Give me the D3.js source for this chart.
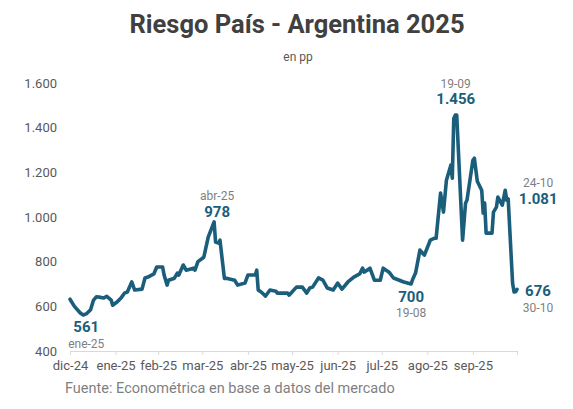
<!DOCTYPE html>
<html>
<head>
<meta charset="utf-8">
<script src="https://cdn.jsdelivr.net/npm/d3@7"></script>
<style>
  body { margin: 0; background: #fff; }
  svg { font-family: Roboto, "Open Sans", sans-serif; }
</style>
</head>
<body>
<div id="chart"></div>
<script>
// daily series
var dates = [
  "2024-12-30","2025-01-02","2025-01-06","2025-01-08","2025-01-10","2025-01-13","2025-01-15","2025-01-17",
  "2025-01-20","2025-01-22","2025-01-24","2025-01-27","2025-01-28","2025-01-31","2025-02-03","2025-02-05",
  "2025-02-07","2025-02-10","2025-02-12","2025-02-17","2025-02-19","2025-02-21","2025-02-25","2025-02-27",
  "2025-03-03","2025-03-04","2025-03-06","2025-03-07","2025-03-11","2025-03-13","2025-03-14","2025-03-17",
  "2025-03-19","2025-03-24","2025-03-25","2025-03-27","2025-03-31","2025-04-03","2025-04-07","2025-04-08",
  "2025-04-10","2025-04-11","2025-04-14","2025-04-16","2025-04-21","2025-04-23","2025-04-28","2025-04-30",
  "2025-05-05","2025-05-06","2025-05-07","2025-05-09","2025-05-12","2025-05-15","2025-05-19","2025-05-20",
  "2025-05-27","2025-05-28","2025-06-02","2025-06-06","2025-06-09","2025-06-11","2025-06-13","2025-06-17",
  "2025-06-20","2025-06-23","2025-06-27","2025-06-30","2025-07-03","2025-07-07","2025-07-11","2025-07-15",
  "2025-07-17","2025-07-18","2025-07-22","2025-07-25","2025-07-29","2025-07-31","2025-08-04","2025-08-07",
  "2025-08-11","2025-08-14","2025-08-19","2025-08-20","2025-08-22","2025-08-25","2025-08-28","2025-09-01",
  "2025-09-04","2025-09-05","2025-09-08","2025-09-10","2025-09-12","2025-09-15","2025-09-16","2025-09-17",
  "2025-09-18","2025-09-19","2025-09-23","2025-09-25","2025-09-26","2025-09-30","2025-10-01","2025-10-03",
  "2025-10-06","2025-10-07","2025-10-08","2025-10-09","2025-10-13","2025-10-14","2025-10-16","2025-10-17",
  "2025-10-20","2025-10-22","2025-10-23","2025-10-24","2025-10-27","2025-10-28","2025-10-29","2025-10-30"
];
var values = [
  632, 600, 570, 561, 566, 585, 628, 643,
  640, 637, 645, 628, 605, 619, 640, 659,
  664, 709, 673, 677, 727, 731, 745, 776,
  776, 740, 695, 717, 726, 749, 740, 785,
  762, 771, 762, 800, 820, 910, 978, 888,
  883, 896, 725, 725, 717, 695, 704, 740,
  740, 762, 673, 664, 646, 673, 668, 659,
  659, 650, 686, 686, 659, 682, 686, 727,
  717, 682, 673, 704, 677, 709, 731, 745,
  771, 753, 771, 717, 717, 771, 753, 727,
  717, 709, 700, 720, 749, 852, 829, 896,
  905, 905, 1107, 1022, 1165, 1232, 1174, 1440,
  1456, 1456, 896, 1062, 1076, 1254, 1263, 1160,
  1120, 1017, 1062, 928, 928, 1022, 1044, 1089,
  1053, 1120, 1075, 1081, 704, 664, 665, 676
];

// axis ticks (Excel-style monthly steps from the first date)
var tickDates = ["2024-12-30","2025-01-30","2025-02-28","2025-03-30","2025-04-30","2025-05-30",
                 "2025-06-30","2025-07-30","2025-08-30","2025-09-30","2025-10-30"];
var tickLabels = ["dic-24","ene-25","feb-25","mar-25","abr-25","may-25","jun-25","jul-25","ago-25","sep-25",""];
var yTicks = [400, 600, 800, 1000, 1200, 1400, 1600];

// highlighted points
var noteDates = ["2025-01-08","2025-04-07","2025-08-19","2025-09-19","2025-10-24","2025-10-30"];
var noteValues = ["561","978","700","1.456","1.081","676"];
var noteLabels = ["ene-25","abr-25","19-08","19-09","24-10","30-10"];

var svgWidth = 573;
var svgHeight = 409;
var margin = { top: 83, right: 56, bottom: 58, left: 70 };
var width = svgWidth - margin.left - margin.right;
var height = svgHeight - margin.top - margin.bottom;

var blue = "#1b5e7c";
var gray = "#595959";

var parse = d3.timeParse("%Y-%m-%d");
var data = dates.map((d, i) => ({ date: parse(d), value: values[i] }));

var svg = d3.select("#chart").append("svg")
    .attr("width", svgWidth)
    .attr("height", svgHeight);

// title
svg.append("text")
    .attr("x", 297).attr("y", 33)
    .attr("text-anchor", "middle")
    .attr("font-size", 25.5).attr("font-weight", 700)
    .attr("fill", "#404040")
    .text("Riesgo País - Argentina 2025");

svg.append("text")
    .attr("x", 298).attr("y", 61)
    .attr("text-anchor", "middle")
    .attr("font-size", 12)
    .attr("fill", gray)
    .text("en pp");

var chartGroup = svg.append("g")
    .attr("transform", `translate(${margin.left}, ${margin.top})`);

var xScale = d3.scaleTime()
    .domain([parse(tickDates[0]), parse(tickDates[tickDates.length - 1])])
    .range([0, width]);

var yScale = d3.scaleLinear()
    .domain([400, 1600])
    .range([height, 0]);

var es = d3.formatLocale({ decimal: ",", thousands: ".", grouping: [3], currency: ["$", ""] });
var fmt = es.format(",");

// y axis, labels only
var yAxis = chartGroup.append("g")
    .call(d3.axisLeft(yScale).tickValues(yTicks).tickFormat(fmt).tickSize(0).tickPadding(13));
yAxis.select(".domain").remove();
yAxis.selectAll("text")
    .attr("font-size", 13)
    .attr("font-family", "Roboto, sans-serif")
    .attr("fill", gray);

// x axis
var xAxis = chartGroup.append("g")
    .attr("transform", `translate(0, ${height})`)
    .call(d3.axisBottom(xScale)
        .tickValues(tickDates.map(parse))
        .tickFormat((d, i) => tickLabels[i])
        .tickSizeInner(4).tickSizeOuter(0).tickPadding(6));
xAxis.select(".domain").attr("stroke", "#d9d9d9");
xAxis.selectAll(".tick line").attr("stroke", "#d9d9d9");
xAxis.selectAll("text")
    .attr("font-size", 13)
    .attr("font-family", "Roboto, sans-serif")
    .attr("fill", gray);

// line
var line = d3.line()
    .x(d => xScale(d.date))
    .y(d => yScale(d.value));

chartGroup.append("path")
    .datum(data)
    .attr("fill", "none")
    .attr("stroke", blue)
    .attr("stroke-width", 3.6)
    .attr("stroke-linejoin", "round")
    .attr("stroke-linecap", "round")
    .attr("d", line);

// annotations: offsets of value / date label relative to the point
var noteOffsets = [
    { dx: 3, vy: 17, ly: 33 },
    { dx: 3, vy: -5, ly: -22 },
    { dx: 0, vy: 18, ly: 33 },
    { dx: -1, vy: -11, ly: -27 },
    { dx: 30, vy: 5, ly: -12 },
    { dx: 21, vy: 7, ly: 23 }
];

noteDates.forEach(function(d, i) {
    var px = xScale(parse(d));
    var py = yScale(data.find(p => +p.date === +parse(d)).value);
    var o = noteOffsets[i];
    chartGroup.append("text")
        .attr("x", px + o.dx).attr("y", py + o.vy)
        .attr("text-anchor", "middle")
        .attr("font-size", 15).attr("font-weight", 700)
        .attr("fill", blue)
        .text(noteValues[i]);
    chartGroup.append("text")
        .attr("x", px + o.dx).attr("y", py + o.ly)
        .attr("text-anchor", "middle")
        .attr("font-size", 12)
        .attr("fill", "#808080")
        .text(noteLabels[i]);
});

// source
svg.append("text")
    .attr("x", 65).attr("y", 393)
    .attr("font-size", 14.5)
    .attr("fill", "#7f7f7f")
    .text("Fuente: Econométrica en base a datos del mercado");
</script>
</body>
</html>
